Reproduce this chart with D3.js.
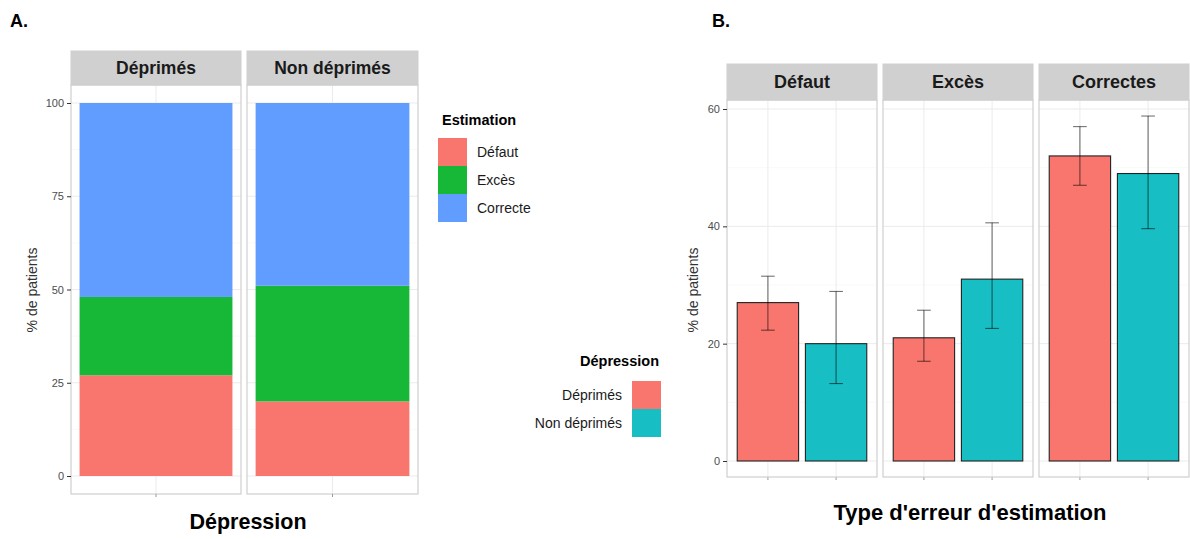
<!DOCTYPE html>
<html>
<head>
<meta charset="utf-8">
<script src="https://cdn.jsdelivr.net/npm/d3@7"></script>
<style>
  body { margin: 0; background: #fff; }
  text { font-family: "Liberation Sans", Arial, sans-serif; }
</style>
</head>
<body>
<div id="main"></div>
<script>
// panel A data (stacked %)
const groups = ['Déprimés', 'Non déprimés'];
const estimations = ['Défaut', 'Excès', 'Correcte'];
const pctDefaut = [27, 20];
const pctExces = [21, 31];
const pctCorrecte = [52, 49];
const ticksA = [0, 25, 50, 75, 100];

// panel B data (bars with error bars)
const errorTypes = ['Défaut', 'Excès', 'Correctes'];
const depGroups = ['Déprimés', 'Non déprimés'];
const valDeprimes = [27, 21, 52];
const valNonDeprimes = [20, 31, 49];
const lowDeprimes = [22.3, 17, 47];
const highDeprimes = [31.5, 25.7, 57];
const lowNonDeprimes = [13.2, 22.6, 39.6];
const highNonDeprimes = [28.9, 40.6, 58.8];
const ticksB = [0, 20, 40, 60];

const colEstim = ['#F8766D', '#17B838', '#619CFF'];
const colDep = ['#F8766D', '#17BFC4'];
const stripFill = '#d0d0d0';
const borderCol = '#cfcfcf';
const gridCol = '#ebebeb';
const gridMinor = '#f5f5f5';
const axisText = '#4d4d4d';

const svg = d3.select('#main').append('svg')
    .attr('width', 1190)
    .attr('height', 539);

// ---------- Panel A ----------
const A = { top: 85, bottom: 494, stripTop: 51, facets: [[71, 241], [247, 418]] };
const yA = d3.scaleLinear().domain([0, 100]).range([476, 103]);
const stacked = d3.stack().keys([0, 1, 2])(groups.map((g, i) => [pctDefaut[i], pctExces[i], pctCorrecte[i]]));

svg.append('text').attr('x', 10).attr('y', 27)
    .attr('font-size', 18).attr('font-weight', 'bold').text('A.');

groups.forEach((g, gi) => {
    const [x0, x1] = A.facets[gi];
    const xA = d3.scaleBand().domain([g]).range([x0, x1]).paddingOuter(0.056).paddingInner(0);
    const pg = svg.append('g');

    pg.append('rect').attr('x', x0).attr('y', A.top).attr('width', x1 - x0).attr('height', A.bottom - A.top)
        .attr('fill', '#fff');
    // minor + major gridlines
    [12.5, 37.5, 62.5, 87.5].forEach(v => pg.append('line').attr('x1', x0).attr('x2', x1)
        .attr('y1', yA(v)).attr('y2', yA(v)).attr('stroke', gridMinor).attr('stroke-width', 0.6));
    ticksA.forEach(v => pg.append('line').attr('x1', x0).attr('x2', x1)
        .attr('y1', yA(v)).attr('y2', yA(v)).attr('stroke', gridCol).attr('stroke-width', 1));
    const cx = xA(g) + xA.bandwidth() / 2;
    pg.append('line').attr('x1', cx).attr('x2', cx).attr('y1', A.top).attr('y2', A.bottom)
        .attr('stroke', gridCol).attr('stroke-width', 1);

    // stacked bars
    stacked.forEach((layer, li) => {
        pg.append('rect')
            .attr('x', xA(g)).attr('width', xA.bandwidth())
            .attr('y', yA(layer[gi][1])).attr('height', yA(layer[gi][0]) - yA(layer[gi][1]))
            .attr('fill', colEstim[li]);
    });

    pg.append('rect').attr('x', x0).attr('y', A.top).attr('width', x1 - x0).attr('height', A.bottom - A.top)
        .attr('fill', 'none').attr('stroke', borderCol).attr('stroke-width', 1.2);
    // strip
    pg.append('rect').attr('x', x0).attr('y', A.stripTop).attr('width', x1 - x0).attr('height', A.top - A.stripTop)
        .attr('fill', stripFill).attr('stroke', borderCol);
    pg.append('text').attr('x', (x0 + x1) / 2).attr('y', (A.stripTop + A.top) / 2 + 6)
        .attr('text-anchor', 'middle').attr('font-size', 17.5).attr('font-weight', 'bold').attr('fill', '#1a1a1a')
        .text(g);
    // x tick
    pg.append('line').attr('x1', cx).attr('x2', cx).attr('y1', A.bottom).attr('y2', A.bottom + 3)
        .attr('stroke', '#999');
});

const yAxisA = svg.append('g').attr('transform', 'translate(71,0)')
    .call(d3.axisLeft(yA).tickValues(ticksA).tickSize(4).tickPadding(3));
yAxisA.select('.domain').remove();
yAxisA.selectAll('line').attr('stroke', '#333');
yAxisA.selectAll('text').attr('font-size', 11).attr('fill', axisText);

svg.append('text').attr('transform', 'translate(37,290) rotate(-90)')
    .attr('text-anchor', 'middle').attr('font-size', 14).attr('fill', '#333').text('% de patients');
svg.append('text').attr('x', 248).attr('y', 529).attr('text-anchor', 'middle')
    .attr('font-size', 21.5).attr('font-weight', 'bold').text('Dépression');

// legend A
svg.append('text').attr('x', 442).attr('y', 125).attr('font-size', 14.5).attr('font-weight', 'bold').text('Estimation');
estimations.forEach((e, i) => {
    svg.append('rect').attr('x', 438).attr('y', 138 + i * 28).attr('width', 29).attr('height', 28).attr('fill', colEstim[i]);
    svg.append('text').attr('x', 477).attr('y', 157 + i * 28).attr('font-size', 14).attr('fill', '#1a1a1a').text(e);
});

// legend B
svg.append('text').attr('x', 659).attr('y', 366).attr('text-anchor', 'end')
    .attr('font-size', 14.5).attr('font-weight', 'bold').text('Dépression');
depGroups.forEach((d, i) => {
    svg.append('rect').attr('x', 632).attr('y', 381 + i * 28).attr('width', 29).attr('height', 28).attr('fill', colDep[i]);
    svg.append('text').attr('x', 622).attr('y', 400 + i * 28).attr('text-anchor', 'end')
        .attr('font-size', 14).attr('fill', '#1a1a1a').text(d);
});

// ---------- Panel B ----------
const B = { top: 100, bottom: 477, stripTop: 64, facets: [[727, 877], [883, 1033], [1039, 1189]] };
const yB = d3.scaleLinear().domain([0, 60]).range([461, 109]);
const valsB = [valDeprimes, valNonDeprimes];
const lowB = [lowDeprimes, lowNonDeprimes];
const highB = [highDeprimes, highNonDeprimes];

svg.append('text').attr('x', 712).attr('y', 27)
    .attr('font-size', 18).attr('font-weight', 'bold').text('B.');

errorTypes.forEach((t, ti) => {
    const [x0, x1] = B.facets[ti];
    // discrete scale with ggplot's 0.6 expansion
    const xB = d3.scaleLinear().domain([0.4, 2.6]).range([x0, x1]);
    const bw = xB(1.45) - xB(1);
    const pg = svg.append('g');

    pg.append('rect').attr('x', x0).attr('y', B.top).attr('width', x1 - x0).attr('height', B.bottom - B.top)
        .attr('fill', '#fff');
    [10, 30, 50].forEach(v => pg.append('line').attr('x1', x0).attr('x2', x1)
        .attr('y1', yB(v)).attr('y2', yB(v)).attr('stroke', gridMinor).attr('stroke-width', 0.6));
    ticksB.forEach(v => pg.append('line').attr('x1', x0).attr('x2', x1)
        .attr('y1', yB(v)).attr('y2', yB(v)).attr('stroke', gridCol).attr('stroke-width', 1));
    depGroups.forEach((d, di) => {
        const cx = xB(di + 1);
        pg.append('line').attr('x1', cx).attr('x2', cx).attr('y1', B.top).attr('y2', B.bottom)
            .attr('stroke', gridCol).attr('stroke-width', 1);
    });

    depGroups.forEach((d, di) => {
        const cx = xB(di + 1);
        pg.append('rect')
            .attr('x', cx - bw).attr('width', bw * 2)
            .attr('y', yB(valsB[di][ti])).attr('height', yB(0) - yB(valsB[di][ti]))
            .attr('fill', colDep[di]).attr('stroke', '#222').attr('stroke-width', 1.1);
        const cap = xB(1.1) - xB(1);
        const lo = yB(lowB[di][ti]), hi = yB(highB[di][ti]);
        const eb = pg.append('g').attr('stroke', 'rgba(0,0,0,0.55)').attr('stroke-width', 1.1);
        eb.append('line').attr('x1', cx).attr('x2', cx).attr('y1', lo).attr('y2', hi);
        eb.append('line').attr('x1', cx - cap).attr('x2', cx + cap).attr('y1', lo).attr('y2', lo);
        eb.append('line').attr('x1', cx - cap).attr('x2', cx + cap).attr('y1', hi).attr('y2', hi);
        pg.append('line').attr('x1', cx).attr('x2', cx).attr('y1', B.bottom).attr('y2', B.bottom + 3)
            .attr('stroke', '#999');
    });

    pg.append('rect').attr('x', x0).attr('y', B.top).attr('width', x1 - x0).attr('height', B.bottom - B.top)
        .attr('fill', 'none').attr('stroke', borderCol).attr('stroke-width', 1.2);
    pg.append('rect').attr('x', x0).attr('y', B.stripTop).attr('width', x1 - x0).attr('height', B.top - B.stripTop)
        .attr('fill', stripFill).attr('stroke', borderCol);
    pg.append('text').attr('x', (x0 + x1) / 2).attr('y', (B.stripTop + B.top) / 2 + 6)
        .attr('text-anchor', 'middle').attr('font-size', 18).attr('font-weight', 'bold').attr('fill', '#1a1a1a')
        .text(t);
});

const yAxisB = svg.append('g').attr('transform', 'translate(727,0)')
    .call(d3.axisLeft(yB).tickValues(ticksB).tickSize(4).tickPadding(3));
yAxisB.select('.domain').remove();
yAxisB.selectAll('line').attr('stroke', '#333');
yAxisB.selectAll('text').attr('font-size', 11).attr('fill', axisText);

svg.append('text').attr('transform', 'translate(698,290) rotate(-90)')
    .attr('text-anchor', 'middle').attr('font-size', 14).attr('fill', '#333').text('% de patients');
svg.append('text').attr('x', 970).attr('y', 520).attr('text-anchor', 'middle')
    .attr('font-size', 22).attr('font-weight', 'bold').text("Type d'erreur d'estimation");
</script>
</body>
</html>
